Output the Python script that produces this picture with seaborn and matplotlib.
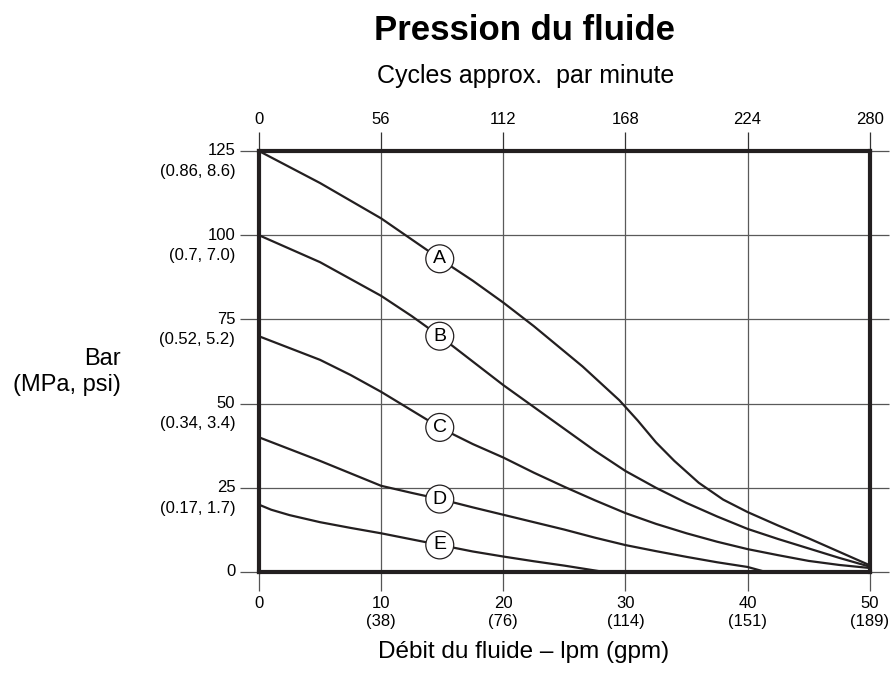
import numpy as np
import pandas as pd
import matplotlib.pyplot as plt
import seaborn as sns
from matplotlib.transforms import ScaledTranslation

# curves: flow (lpm) -> pressure (bar)
a_x = [0, 5, 10, 12, 15, 17.5, 20, 22.5, 25, 26.5, 28, 29.5, 31, 32.5, 34, 36, 38, 40, 42.5, 45, 47.5, 50]
a_y = [125, 115.5, 105, 100, 92.5, 86.5, 80, 73, 65.5, 61, 56, 51, 45, 38.5, 33, 26.5, 21.5, 17.8, 13.8, 10, 6, 2]
b_x = [0, 2.5, 5, 7.5, 10, 12.5, 15, 17.5, 20, 22.5, 25, 27.5, 30, 32.5, 35, 37.5, 40, 42.5, 45, 47.5, 50]
b_y = [100, 96, 92, 87, 82, 76, 69.5, 62.5, 55.5, 49, 42.5, 36, 30, 25, 20.5, 16.5, 12.8, 9.8, 7, 4.2, 1.6]
c_x = [0, 2.5, 5, 7.5, 10, 12.5, 15, 17.5, 20, 22.5, 25, 27.5, 30, 32.5, 35, 37.5, 40, 42.5, 45, 47.5, 50]
c_y = [70, 66.5, 63, 58.5, 53.5, 48, 42.5, 38, 34, 29.5, 25.3, 21.3, 17.5, 14.3, 11.5, 9, 6.8, 5, 3.3, 2.1, 1.2]
d_x = [0, 2.5, 5, 7.5, 10, 12.5, 15, 17.5, 20, 22.5, 25, 27.5, 30, 32.5, 35, 37.5, 40, 41.5]
d_y = [40, 36.5, 33, 29.3, 25.6, 23.5, 21.5, 19.2, 17, 14.8, 12.6, 10.2, 8, 6.2, 4.5, 2.9, 1.5, 0]
e_x = [0, 1, 2.5, 5, 7.5, 10, 12.5, 15, 17.5, 20, 22.5, 25, 28.3]
e_y = [20, 18.5, 16.9, 14.8, 13.1, 11.5, 9.7, 7.9, 6.1, 4.6, 3.2, 1.9, 0]
curve_names = ["A", "B", "C", "D", "E"]

x_ticks = [0, 10, 20, 30, 40, 50]
x_labels = ["0", "10\n(38)", "20\n(76)", "30\n(114)", "40\n(151)", "50\n(189)"]
y_ticks = [0, 25, 50, 75, 100, 125]
y_labels = ["0", "25\n(0.17, 1.7)", "50\n(0.34, 3.4)", "75\n(0.52, 5.2)",
            "100\n(0.7, 7.0)", "125\n(0.86, 8.6)"]
cycle_ticks = [0, 56, 112, 168, 224, 280]

sns.set_style("white")
plt.rcParams['font.family'] = ['Liberation Sans', 'DejaVu Sans']
plt.rcParams['text.color'] = 'black'
plt.rcParams['xtick.labelcolor'] = 'black'
plt.rcParams['ytick.labelcolor'] = 'black'

fig = plt.figure(figsize=(8.93, 6.84), dpi=100)
ax = fig.add_axes([0.290, 0.1637, 0.684, 0.6155])

curves = [(a_x, a_y), (b_x, b_y), (c_x, c_y), (d_x, d_y), (e_x, e_y)]
frames = []
for name, (xs, ys) in zip(curve_names, curves):
    frames.append(pd.DataFrame({"flow": xs, "pressure": ys, "curve": name}))
df = pd.concat(frames, ignore_index=True)

sns.lineplot(data=df, x="flow", y="pressure", hue="curve", sort=True,
             palette=["#231f20"] * 5, linewidth=1.6, legend=False, ax=ax, zorder=3)

# circled letters sitting on each curve
for name, (xs, ys) in zip(curve_names, curves):
    yv = np.interp(14.8, xs, ys)
    ax.text(14.8, yv, name, ha="center", va="center", fontsize=14, zorder=5,
            bbox=dict(boxstyle="circle,pad=0.28", fc="white", ec="#231f20", lw=0.9))

ax.set_xlim(0, 50)
ax.set_ylim(0, 125)
ax.set_xticks(x_ticks)
ax.set_xticklabels(x_labels, fontsize=12, linespacing=1.3)
ax.set_yticks(y_ticks)
ax.set_yticklabels(y_labels, fontsize=12, linespacing=1.45)
ax.grid(True, color="#5a5a5a", linewidth=0.9, zorder=1)
ax.set_axisbelow(True)
ax.tick_params(direction="out", length=14, width=0.9, color="#555555", pad=3,
               right=True, labelright=False, bottom=True, left=True)
ax.set_xlabel("")
ax.set_ylabel("")

for lab in ax.get_yticklabels():
    lab.set_verticalalignment("top")
    lab.set_multialignment("right")
    lab.set_transform(lab.get_transform() + ScaledTranslation(0, 5.5 / 72, fig.dpi_scale_trans))

for sp in ax.spines.values():
    sp.set_visible(True)
    sp.set_color("#231f20")
    sp.set_linewidth(3)
    sp.set_zorder(6)

top = ax.secondary_xaxis("top", functions=(lambda v: v * 5.6, lambda v: v / 5.6))
top.set_xticks(cycle_ticks)
top.set_xticklabels([str(c) for c in cycle_ticks], fontsize=12)
top.tick_params(direction="out", length=14, width=0.9, color="#333333", pad=3)
top.spines["top"].set_visible(False)

fig.text(525 / 893, 1 - 30 / 684, "Pression du fluide", ha="center", va="center",
         fontsize=25, fontweight="bold")
fig.text(526 / 893, 1 - 76 / 684, "Cycles approx.  par minute", ha="center",
         va="center", fontsize=18)
fig.text(524 / 893, 1 - 652 / 684, "Débit du fluide – lpm (gpm)", ha="center",
         va="center", fontsize=17.5)
fig.text(121 / 893, 1 - 372 / 684, "Bar\n(MPa, psi)", ha="right", va="center",
         multialignment="right", fontsize=17)

fig.savefig("out.png", dpi=100)
